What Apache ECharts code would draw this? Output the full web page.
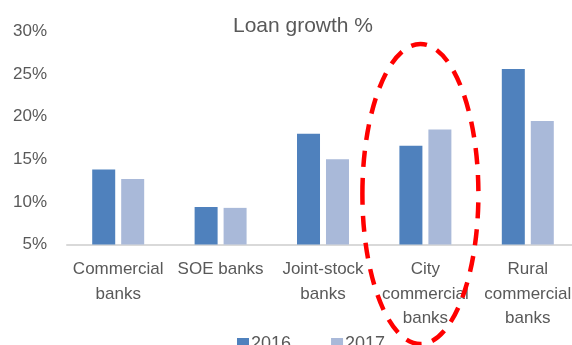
<!DOCTYPE html>
<html>
<head>
<meta charset="utf-8">
<script src="https://cdn.jsdelivr.net/npm/echarts@6/dist/echarts.min.js"></script>
<style>
  html, body { margin: 0; padding: 0; background: #fff; }
  #chart { width: 572px; height: 345px; }
</style>
</head>
<body>
<div id="chart"></div>
<script>
// Bank groups and yearly loan growth (%)
const categories = ['Commercial\nbanks', 'SOE banks', 'Joint-stock\nbanks', 'City\ncommercial\nbanks', 'Rural\ncommercial\nbanks'];
const growth2016 = [13.8, 9.4, 18.0, 16.6, 25.6];
const growth2017 = [12.7, 9.3, 15.0, 18.5, 19.5];
const yTicks = [5, 30, 5]; // min, max, step
const highlighted = 'City\ncommercial\nbanks';

const font = "'Liberation Sans', Arial, sans-serif";
const textColor = '#595959';

const chart = echarts.init(document.getElementById('chart'));
chart.setOption({
  animation: false,
  title: {
    text: 'Loan growth %',
    left: 298, top: 11, textAlign: 'center',
    textStyle: { fontFamily: font, fontSize: 21, fontWeight: 'normal', color: textColor }
  },
  legend: {
    data: ['2016', '2017'],
    left: 232, top: 330,
    itemWidth: 12, itemHeight: 12, itemGap: 40,
    icon: 'rect',
    textStyle: { fontFamily: font, fontSize: 18, color: textColor, padding: [0, 0, 0, -3] }
  },
  grid: { left: 67, top: 31.5, width: 512, height: 213, outerBoundsMode: 'none', containLabel: false },
  xAxis: {
    type: 'category',
    data: categories,
    axisLine: { lineStyle: { color: '#d9d9d9', width: 2 } },
    axisTick: { show: false },
    axisLabel: { fontFamily: font, fontSize: 17, color: textColor, lineHeight: 24.5, margin: 13, interval: 0 }
  },
  yAxis: {
    type: 'value',
    min: yTicks[0], max: yTicks[1], interval: yTicks[2],
    splitLine: { show: false },
    axisLine: { show: false },
    axisTick: { show: false },
    axisLabel: { fontFamily: font, fontSize: 17, color: textColor, formatter: '{value}%', margin: 20 }
  },
  series: [
    { name: '2016', type: 'bar', data: growth2016, barWidth: 23, barGap: '26%', itemStyle: { color: '#4f81bd' } },
    { name: '2017', type: 'bar', data: growth2017, barWidth: 23, itemStyle: { color: '#a9b9d9' } }
  ]
});

// Dashed red ellipse around the highlighted group
const cx = chart.convertToPixel({ xAxisIndex: 0 }, highlighted) - 5;
chart.setOption({
  graphic: [{
    type: 'ellipse',
    shape: { cx: cx, cy: 194, rx: 58, ry: 150 },
    style: { fill: null, stroke: '#ff0000', lineWidth: 4.5, lineDash: [16, 11] },
    z: 100
  }]
});
</script>
</body>
</html>
